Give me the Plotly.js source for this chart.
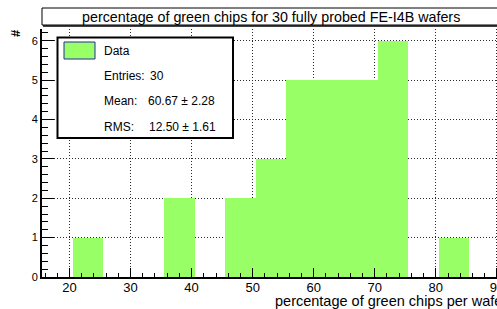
<!DOCTYPE html>
<html><head><meta charset="utf-8">
<script src="https://cdn.plot.ly/plotly-3.0.1.min.js"></script>
<style>html,body{margin:0;padding:0;overflow:hidden;background:#fff;width:497px;height:309px}#c{width:580px;height:309px}</style>
</head><body><div id="c"></div>
<script>
// histogram bins (5 wide, edges at x.5)
const binCenters = [18, 23, 28, 33, 38, 43, 48, 53, 58, 63, 68, 73, 78, 83, 88, 93, 98];
const counts     = [0, 1, 0, 0, 2, 0, 2, 3, 5, 5, 5, 6, 0, 1, 0, 0, 0];
const binWidth = 5;
const chartTitle = "percentage of green chips for 30 fully probed FE-I4B wafers";
const xTitle = "percentage of green chips per wafer";
const yTitle = "#";
const statLabels = ["Entries:", "Mean:", "RMS:"];
const statValues = ["30", "60.67 ± 2.28", "12.50 ± 1.61"];
const seriesName = "Data";

const W = 580, H = 309, L = 42, T = 29, B = 32;
const PW = 519, PH = H - T - B;
const xp = px => (px - L) / PW;
const yp = py => (H - B - py) / PH;
const font = "Liberation Sans, Arial, sans-serif";
const green = "rgb(153,255,102)";

const trace = {
  type: "bar", x: binCenters, y: counts, width: binWidth,
  marker: {color: green, line: {width: 0}}, hoverinfo: "skip", showlegend: false
};

const shapes = [
  // title box
  {type:"rect", xref:"paper", yref:"paper", x0:xp(42), x1:xp(620), y0:yp(25), y1:yp(8),
   line:{color:"black", width:1}, fillcolor:"white", layer:"above"},
  {type:"line", xref:"paper", yref:"paper", x0:xp(43), x1:xp(620), y0:yp(26), y1:yp(26),
   line:{color:"black", width:1.5}, layer:"above"},
  // stats box
  {type:"rect", xref:"paper", yref:"paper", x0:xp(57.5), x1:xp(233), y0:yp(138), y1:yp(37.5),
   line:{color:"black", width:2}, fillcolor:"white", layer:"above"},
  // legend swatch
  {type:"rect", xref:"paper", yref:"paper", x0:xp(64), x1:xp(95), y0:yp(59), y1:yp(42),
   line:{color:"rgb(40,40,170)", width:1}, fillcolor:green, layer:"above"}
];

const ann = (text, px, py, opts={}) => Object.assign({
  text, xref:"paper", yref:"paper", x:xp(px), y:yp(py), showarrow:false,
  xanchor:"left", yanchor:"middle", font:{family:font, size:12, color:"black"}
}, opts);

const annotations = [
  ann(chartTitle, 271, 16.5, {xanchor:"center", font:{family:font, size:14.3, color:"black"}}),
  ann(xTitle, 273, 301, {font:{family:font, size:14.5, color:"black"}}),
  ann("<b>"+yTitle+"</b>", 15, 33, {xanchor:"center", textangle:-90, font:{family:font, size:13, color:"black"}}),
  ann(seriesName, 102, 51),
  ann(statLabels[0], 102, 75.5), ann(statValues[0], 147.5, 75.5),
  ann(statLabels[1], 102, 101), ann(statValues[1], 146, 101),
  ann(statLabels[2], 102, 127), ann(statValues[2], 147, 127)
];

const layout = {
  width: W, height: H,
  margin: {l: L, r: W - L - PW, t: T, b: B, pad: 0},
  paper_bgcolor: "white", plot_bgcolor: "white",
  bargap: 0, showlegend: false,
  font: {family: font, size: 12, color: "black"},
  xaxis: {
    range: [15.5, 100.5], tick0: 0, dtick: 10,
    ticks: "inside", ticklen: 9, tickwidth: 1, tickcolor: "black",
    minor: {dtick: 2, ticks: "inside", ticklen: 4, tickcolor: "black", showgrid: false},
    showline: true, linecolor: "black", linewidth: 2,
    showgrid: true, gridcolor: "rgb(40,40,40)", griddash: "1px,2px", gridwidth: 1,
    zeroline: false, tickfont: {family: font, size: 13, color: "black"},
    ticklabelstandoff: -3
  },
  yaxis: {
    range: [0, 6.3], tick0: 0, dtick: 1,
    ticks: "inside", ticklen: 12, tickwidth: 1, tickcolor: "black",
    minor: {dtick: 0.2, ticks: "inside", ticklen: 6, tickcolor: "black", showgrid: false},
    showline: true, linecolor: "black", linewidth: 2,
    showgrid: true, gridcolor: "rgb(40,40,40)", griddash: "1px,2px", gridwidth: 1,
    zeroline: false, tickfont: {family: font, size: 11, color: "black"}
  },
  shapes, annotations
};

Plotly.newPlot("c", [trace], layout, {staticPlot: true, displayModeBar: false});
</script></body></html>
